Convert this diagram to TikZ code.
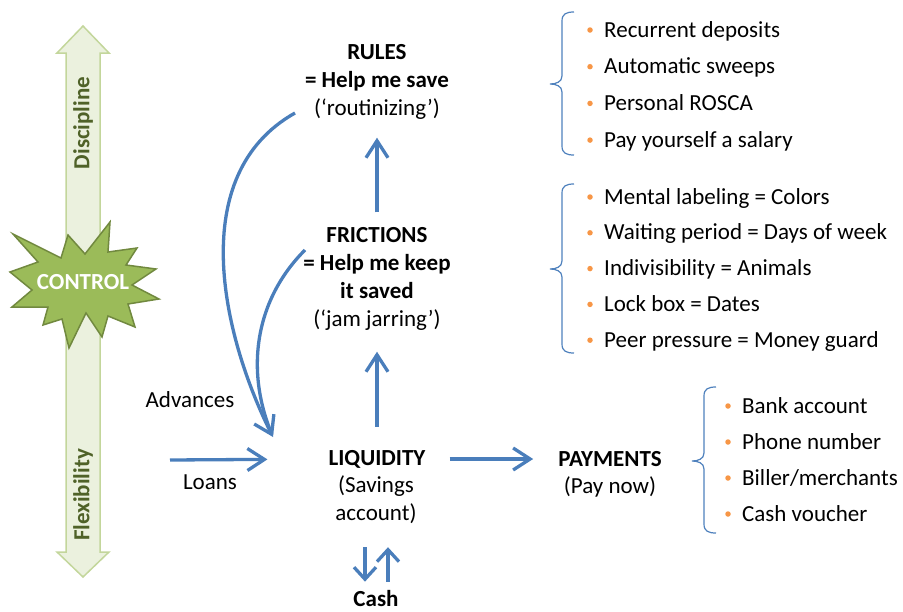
\documentclass[tikz,border=0pt]{standalone}
\usepackage{fontspec}
\setmainfont{Carlito}
\usepackage{xcolor}
\usepackage{tikz}
\usetikzlibrary{arrows.meta}
\definecolor{ink}{HTML}{000000}
\definecolor{flowblue}{HTML}{4A7EBB}
\definecolor{braceblue}{HTML}{4F81BD}
\definecolor{dotorange}{HTML}{F79646}
\definecolor{leaf}{HTML}{9BBB59}
\definecolor{leafdark}{HTML}{71893F}
\definecolor{pale}{HTML}{EBF1DE}
\definecolor{paleline}{HTML}{C3D69B}
\definecolor{leaftext}{HTML}{4F6228}
\tikzset{
  flow/.style={draw=flowblue, line width=3.3pt, -{Straight Barb[length=17pt,width=22pt]}},
  flowshort/.style={flow, -{Straight Barb[length=12pt,width=22pt]}},
  brace/.style={draw=braceblue, line width=1.2pt},
  shaft/.style={draw=paleline, fill=pale, line width=1.5pt, line join=miter},
  burst/.style={draw=leafdark, fill=leaf, line width=1.5pt, line join=miter},
  dot/.style={circle, fill=dotorange, inner sep=0pt, minimum size=5.5pt},
  lab/.style={text=ink, font=\fontsize{23}{28}\selectfont, inner sep=2pt, align=center},
  labb/.style={lab, font=\fontsize{23}{28}\selectfont\bfseries},
  axis/.style={text=leaftext, font=\fontsize{23}{28}\selectfont\bfseries, rotate=90},
  item/.style={lab, anchor=west, inner sep=0pt, text height=18pt, text depth=4pt},
}

\begin{document}
\begin{tikzpicture}[x=1pt,y=-1pt]
  \useasboundingbox (0,0) rectangle (903,611);
  % control axis
  \draw[shaft] (83,26) -- (109,53) -- (100,53) -- (100,552) -- (109,552) -- (83,577)
    -- (57,552) -- (66,552) -- (66,53) -- (57,53) -- cycle;
  \node[axis] (disc) at (83,123) {Discipline};
  \node[axis] (flex) at (83,495) {Flexibility};
  \draw[burst] plot coordinates {(13,234) (61,258) (68,235) (85,254) (110,222) (108,252)
    (137,248) (126,265) (156,269) (132,285) (159,299) (128,304) (135,327) (108,316)
    (102,337) (86,313) (69,348) (62,319) (43,325) (48,307) (12,307) (32,290) (10,272)
    (38,262)} -- cycle;
  \node[labb, text=white] (ctrl) at (83,282) {CONTROL};

  % main blocks
  \node[lab] (rules) at (377,82) {\textbf{RULES}\\\textbf{= Help me save}\\(‘routinizing’)};
  \node[lab] (frictions) at (377,279) {\textbf{FRICTIONS}\\\textbf{= Help me keep}\\\textbf{it saved}\\(‘jam jarring’)};
  \node[labb] (liq) at (377,459) {LIQUIDITY};
  \node[lab] (liqsub) at (376,500) {(Savings\\account)};
  \node[labb] (pay) at (610,459) {PAYMENTS};
  \node[lab] (paysub) at (610,487) {(Pay now)};
  \node[labb] (cash) at (376,599) {Cash};
  \node[lab] (adv) at (190,400) {Advances};
  \node[lab] (loans) at (210,482) {Loans};

  \coordinate (r-out) at (295,113);
  \coordinate (f-out) at (305,250);
  \coordinate (adv-in) at (273,437);
  \coordinate (loan-in) at (170,460);

  \draw[flow, shorten <=13pt, shorten >=16pt] (frictions.north) -- (rules.south);
  \draw[flow, shorten <=21pt, shorten >=19pt] (liq.north) -- (frictions.south);
  \draw[flow, shorten <=22pt, shorten >=23pt] (liq.east) -- (pay.west);
  \draw[flow, shorten >=59pt] (loan-in) -- (liq.west);
  \draw[flow] (r-out) .. controls (185,175) and (222,335) .. (adv-in);
  \draw[flow, -, shorten >=3pt] (f-out) .. controls (255,300) and (245,370) .. (adv-in);
  \draw[flowshort, shorten <=21pt, shorten >=7pt] ([xshift=-11pt]liqsub.south) -- ([xshift=-11pt]cash.north);
  \draw[flowshort, shorten <=7pt, shorten >=21pt] ([xshift=12pt]cash.north) -- ([xshift=12pt]liqsub.south);

  % lists
  \foreach \bx/\bt/\bm/\bb in {562/12/84/155, 562/184/269/353, 704/387/461/533}
    \draw[brace] (\bx+12,\bt) .. controls (\bx+4,\bt) and (\bx,\bt+2) .. (\bx,\bt+9)
      -- (\bx,\bm-8) .. controls (\bx,\bm-2) and (\bx-6,\bm) .. (\bx-12,\bm)
      .. controls (\bx-6,\bm) and (\bx,\bm+2) .. (\bx,\bm+8)
      -- (\bx,\bb-9) .. controls (\bx,\bb-2) and (\bx+4,\bb) .. (\bx+12,\bb);
  \foreach \t [count=\i] in {Recurrent deposits, Automatic sweeps, Personal ROSCA,
      Pay yourself a salary} {
    \node[dot] (rd\i) at (590,{30+36.7*(\i-1)}) {};
    \node[item] (r\i) at (604,{30+36.7*(\i-1)}) {\t};
  }
  \foreach \t [count=\i] in {Mental labeling = Colors, Waiting period = Days of week,
      Indivisibility = Animals, Lock box = Dates, Peer pressure = Money guard} {
    \node[dot] (fd\i) at (590,{197+35.8*(\i-1)}) {};
    \node[item] (f\i) at (604,{197+35.8*(\i-1)}) {\t};
  }
  \foreach \t [count=\i] in {Bank account, Phone number, Biller/merchants, Cash voucher} {
    \node[dot] (pd\i) at (728,{406+36*(\i-1)}) {};
    \node[item] (p\i) at (742,{406+36*(\i-1)}) {\t};
  }
\end{tikzpicture}
\end{document}
